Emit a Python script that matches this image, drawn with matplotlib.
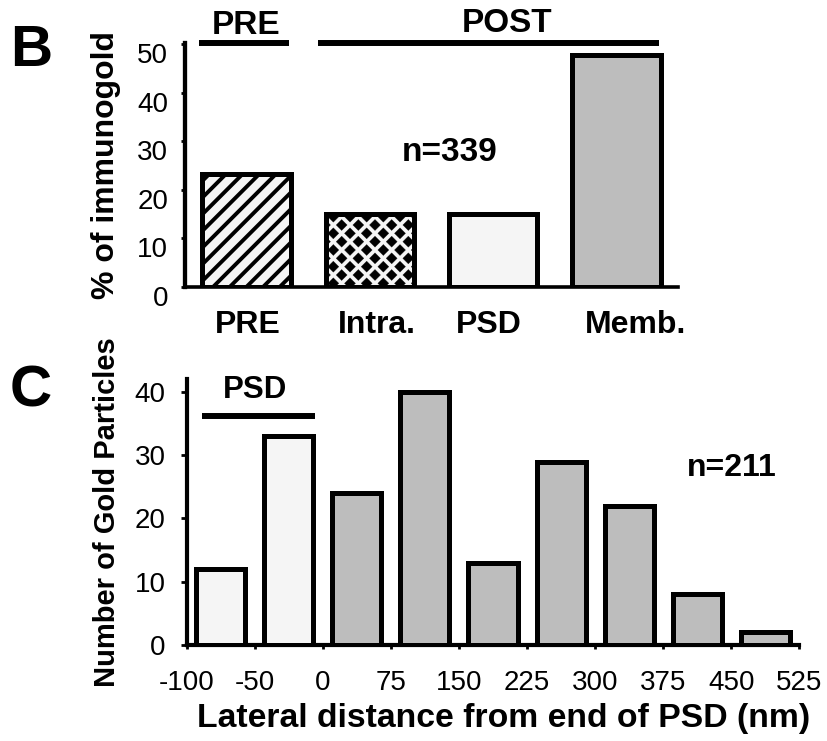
import numpy as np
import matplotlib
matplotlib.use('Agg')
import matplotlib.pyplot as plt
import matplotlib.hatch as mhatch
from matplotlib.path import Path
from matplotlib.transforms import ScaledTranslation

# ---------------- data ----------------
b_categories = ['PRE', 'Intra.', 'PSD', 'Memb.']
b_values = [23.3, 15.0, 15.0, 47.8]
b_yticks = [0, 10, 20, 30, 40, 50]
b_groups = ['PRE', 'POST']
b_group_members = [[0], [1, 2, 3]]
b_n_text = 'n=339'

c_edges_labels = ['-100', '-50', '0', '75', '150', '225', '300', '375', '450', '525']
c_values = [12, 33, 24, 40, 13, 29, 22, 8, 2]
c_in_psd = [True, True, False, False, False, False, False, False, False]
c_yticks = [0, 10, 20, 30, 40]
c_n_text = 'n=211'

# ---------------- style ----------------
W, H, DPI = 828, 741, 100
LIGHT = '#f5f5f5'
GRAY = '#bdbdbd'
plt.rcParams['font.family'] = ['Liberation Sans', 'DejaVu Sans']
b_label_dx = [1, 7.5, -4, 19.5]   # pixel nudges of category labels


class DiamondHatch(mhatch.HatchPatternBase):
    """45-degree checkerboard of filled diamonds (used for '*')."""
    def __init__(self, hatch, density):
        self.n = hatch.count('*') * 12
        if self.n:
            ii, jj = np.meshgrid(np.arange(self.n + 1), np.arange(self.n + 1))
            m = (ii + jj) % 2 == 0
            self.centers = np.column_stack([ii[m], jj[m]]) / self.n
        else:
            self.centers = np.zeros((0, 2))
        self.num_vertices = len(self.centers) * 5

    def set_vertices_and_codes(self, vertices, codes):
        h = 0.66 / self.n
        shape = np.array([[0, -h], [h, 0], [0, h], [-h, 0], [0, -h]])
        verts = (self.centers[:, None, :] + shape[None, :, :]).reshape(-1, 2)
        vertices[:] = verts
        c = np.array([Path.MOVETO, Path.LINETO, Path.LINETO, Path.LINETO,
                      Path.CLOSEPOLY], dtype=codes.dtype)
        codes[:] = np.tile(c, len(self.centers))


mhatch._hatch_types[mhatch._hatch_types.index(mhatch.Stars)] = DiamondHatch


def fx(x):
    return x / W


def fy(y):
    return 1 - y / H


fig = plt.figure(figsize=(W / DPI, H / DPI), dpi=DPI)

# ================= Panel B =================
axB = fig.add_axes([fx(185), fy(287), (678 - 185) / W, (287 - 43) / H])
xb = np.arange(len(b_categories))
b_faces = [LIGHT, LIGHT, LIGHT, GRAY]
b_hatches = ['//', '*', None, None]
b_hlw = [2.8, 0.2, 1.0, 1.0]
for i in range(len(b_categories)):
    plt.rcParams['hatch.linewidth'] = b_hlw[i]
    bc = axB.bar(xb[i], b_values[i], width=0.72, color=b_faces[i],
                 edgecolor='black', linewidth=3.6, hatch=b_hatches[i], zorder=3)
    for p in bc:
        if hasattr(p, 'set_hatch_linewidth'):
            p.set_hatch_linewidth(b_hlw[i])
axB.set_xlim(-0.5, len(b_categories) - 0.5)
axB.set_ylim(0, 50.2)
axB.set_yticks(b_yticks)
axB.set_yticklabels([str(t) for t in b_yticks])
axB.set_xticks(xb)
axB.set_xticklabels(b_categories, fontsize=23, fontweight='bold')
axB.tick_params(axis='x', length=0, pad=16.5)
axB.tick_params(axis='y', direction='out', length=3, width=2, labelsize=20, pad=9)
for s in ['top', 'right']:
    axB.spines[s].set_visible(False)
axB.spines['left'].set_linewidth(3.1)
axB.spines['bottom'].set_linewidth(2.6)
for lab in axB.get_yticklabels():
    lab.set_transform(lab.get_transform() + ScaledTranslation(0, -9 / DPI, fig.dpi_scale_trans))
for lab, dx in zip(axB.get_xticklabels(), b_label_dx):
    lab.set_transform(lab.get_transform() + ScaledTranslation(dx / DPI, 0, fig.dpi_scale_trans))
axB.set_ylabel('% of immunogold', fontsize=23, fontweight='bold', labelpad=12)

# group lines
for g, members in zip(b_groups, b_group_members):
    x0 = members[0] - (0.39 if len(members) == 1 else 0.42)
    x1 = members[-1] + 0.345
    axB.plot([x0, x1], [50.3, 50.3], color='black', lw=4.3, clip_on=False,
             solid_capstyle='butt')
fig.text(fx(246.5), fy(25), b_groups[0], fontsize=24, fontweight='bold',
         ha='center', va='center')
fig.text(fx(507), fy(24), b_groups[1], fontsize=24, fontweight='bold',
         ha='center', va='center')
fig.text(fx(450), fy(152.5), b_n_text, fontsize=24, fontweight='bold',
         ha='center', va='center')
fig.text(fx(31.5), fy(51), 'B', fontsize=42, fontweight='bold',
         ha='center', va='center')

# ================= Panel C =================
axC = fig.add_axes([fx(186.7), fy(645), (799.3 - 186.7) / W, (645 - 379.3) / H])
xc = np.arange(len(c_values))
c_colors = [LIGHT if p else GRAY for p in c_in_psd]
axC.bar(xc, c_values, width=0.72, color=c_colors, edgecolor='black',
        linewidth=3.6, zorder=3)
axC.set_xlim(-0.5, len(c_values) - 0.5)
axC.set_ylim(0, 42.0)
axC.set_yticks(c_yticks)
axC.set_yticklabels([str(t) for t in c_yticks])
axC.set_xticks(np.arange(len(c_edges_labels)) - 0.5)
axC.set_xticklabels(c_edges_labels)
axC.tick_params(axis='x', direction='out', length=3, width=2, labelsize=20, pad=15)
axC.tick_params(axis='y', direction='out', length=4, width=2, labelsize=20, pad=11)
for s in ['top', 'right']:
    axC.spines[s].set_visible(False)
axC.spines['left'].set_linewidth(3.0)
axC.spines['bottom'].set_linewidth(3.0)
axC.set_ylabel('Number of Gold Particles', fontsize=21, fontweight='bold', labelpad=10)
axC.set_xlabel('Lateral distance from end of PSD (nm)', fontsize=24.3,
               fontweight='bold', va='center')
axC.xaxis.set_label_coords((503.5 - 186.7) / (799.3 - 186.7),
                           (645 - 718) / (645 - 379.3))

psd_idx = [i for i, p in enumerate(c_in_psd) if p]
axC.plot([psd_idx[0] - 0.28, psd_idx[-1] + 0.385], [36.2, 36.2], color='black',
         lw=4.3, clip_on=False, solid_capstyle='butt')
fig.text(fx(255), fy(390), 'PSD', fontsize=22.5, fontweight='bold',
         ha='center', va='center')
fig.text(fx(732), fy(468), c_n_text, fontsize=23, fontweight='bold',
         ha='center', va='center')
fig.text(fx(31), fy(391.5), 'C', fontsize=42, fontweight='bold',
         ha='center', va='center')

fig.savefig('out.png', dpi=DPI, facecolor='white')
